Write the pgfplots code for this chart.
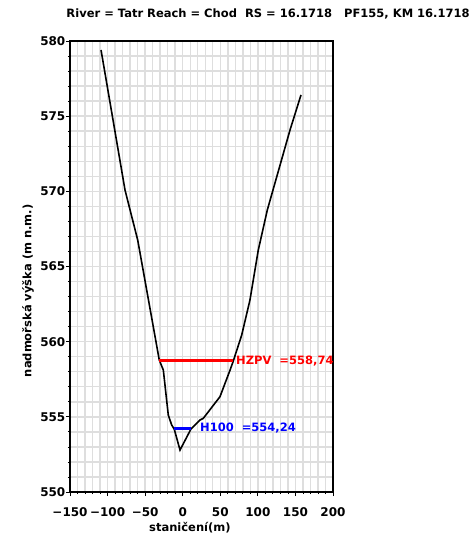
\documentclass[border=0pt]{standalone}
\usepackage{fontspec}
\setmainfont{DejaVu Sans}
\usepackage{pgfplots}
\pgfplotsset{compat=1.18}
\begin{document}
\begin{tikzpicture}[font=\fontsize{11.5}{14}\selectfont\bfseries]
\begin{axis}[
  scale only axis, width=263pt, height=451pt,
  xmin=-150, xmax=200, ymin=550, ymax=580,
  xtick={-150,-100,...,200},
  xticklabels={−150,−100,−50,0,50,100,150,200},
  ytick={550,555,...,580},
  minor x tick num=4, minor y tick num=4,
  xtick pos=bottom, ytick pos=left,
  grid=both,
  grid style={draw=black!13, line width=1.4pt},
  axis line style={line width=1.6pt},
  tick align=outside, major tick length=4pt, minor tick length=2pt,
  tick style={black, line width=0.8pt},
  /pgf/number format/assume math mode=true,
  ticklabel style={font=\fontsize{12}{14}\selectfont\bfseries},
  xticklabel style={yshift=-8pt},
  yticklabel style={inner xsep=0.5pt},
  title={River = Tatr Reach = Chod\ \ RS = 16.1718\ \ \ PF155, KM 16.1718},
  title style={at={(axis description cs:0.753,1.047)}, anchor=center},
  xlabel={staničení(m)},
  xlabel style={at={(axis description cs:0.456,-0.08)}, anchor=center},
  ylabel={nadmořská výška (m n.m.)},
  ylabel style={at={(axis description cs:-0.16,0.446)}, anchor=center},
]
\addplot[black, line width=1.6pt] coordinates {
(-108.7,579.40) (-76.8,570.09) (-59.9,566.76) (-31.2,558.78) (-25.8,558.11)
(-19.2,555.12) (-14.7,554.46) (-11.2,554.17) (-3.6,552.79) (11.0,554.19)
(23.0,554.79) (27.4,554.90) (49.6,556.34) (63.0,558.11) (67.3,558.71)
(78.5,560.44) (89.5,562.77) (100.6,566.10) (112.6,568.76) (142.8,574.08)
(157.4,576.41)
};
\addplot[red, line width=2.5pt] coordinates {(-31.2,558.74) (67.3,558.74)};
\addplot[blue, line width=2.5pt] coordinates {(-11.2,554.24) (11.0,554.24)};
\node[anchor=west, text=red, inner sep=0pt] at (axis cs:70.9,558.74) {HZPV\ \ =558,74};
\node[anchor=west, text=blue, inner sep=0pt] at (axis cs:23,554.24) {H100\ \ =554,24};
\end{axis}
\pgfresetboundingbox
\path[use as bounding box] (current axis.south west) ++(-70pt,-43pt) rectangle ++(471pt,535pt);
\end{tikzpicture}
\end{document}
